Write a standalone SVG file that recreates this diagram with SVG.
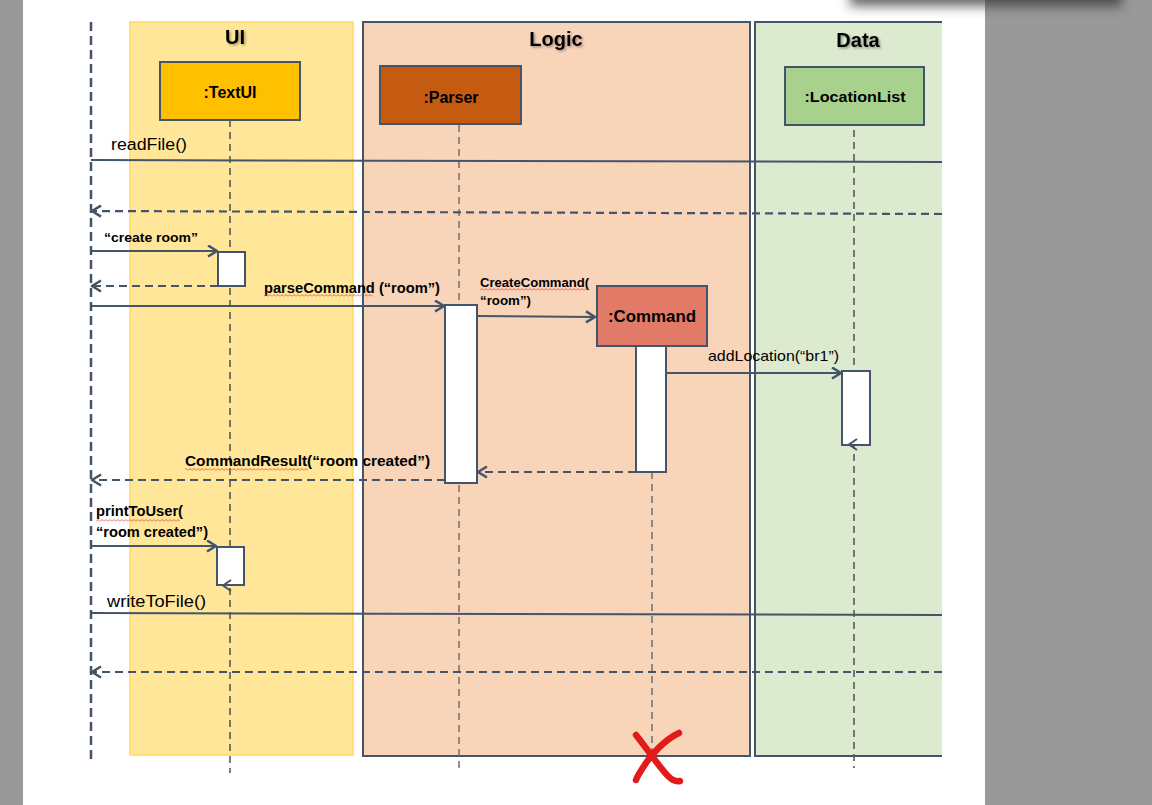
<svg xmlns="http://www.w3.org/2000/svg" width="1152" height="805" viewBox="0 0 1152 805">
<style>
.lbl{font-family:"Liberation Sans","Open Sans",sans-serif;fill:#000;}
.b{font-weight:bold;}
.title{font-family:"Liberation Sans","Open Sans",sans-serif;font-weight:bold;font-size:20px;fill:#000;}
.head{stroke:#44546A;stroke-width:2;}
.act{fill:#FFFFFF;stroke:#44546A;stroke-width:2;}
.msg{stroke:#44546A;stroke-width:2;fill:none;}
.ret{stroke:#44546A;stroke-width:2.2;fill:none;stroke-dasharray:8 5;}
.life{stroke:#595959;stroke-width:1.6;fill:none;stroke-dasharray:7 5;}
.life2{stroke:#6F6F6F;stroke-width:1.5;fill:none;stroke-dasharray:7 5;}
.squig{fill:url(#sq);}
</style>
<defs>
<marker id="arr" markerUnits="userSpaceOnUse" markerWidth="14" markerHeight="14" refX="10" refY="6.5" orient="auto">
<path d="M1,1 L10,6.5 L1,12" fill="none" stroke="#44546A" stroke-width="2.6" stroke-linejoin="round"/>
</marker>
<pattern id="sq" width="4" height="3" patternUnits="userSpaceOnUse">
<path d="M0,2.5 L2,0.5 L4,2.5" fill="none" stroke="#E04040" stroke-width="0.8"/>
</pattern>
<filter id="ts" x="-20%" y="-20%" width="150%" height="150%">
<feDropShadow dx="1.5" dy="1.5" stdDeviation="1" flood-color="#000" flood-opacity="0.35"/>
</filter>
<filter id="blur" x="-20%" y="-100%" width="140%" height="300%">
<feGaussianBlur stdDeviation="6"/>
</filter>
</defs>

<!-- page background -->
<rect x="0" y="0" width="1152" height="805" fill="#FFFFFF"/>
<rect x="0" y="0" width="23" height="805" fill="#999999"/>
<rect x="985" y="0" width="167" height="805" fill="#999999"/>
<rect x="850" y="-14" width="272" height="20" fill="#333333" filter="url(#blur)" opacity="0.75"/>

<!-- lanes -->
<g id="lane-ui">
<rect x="130" y="22" width="223" height="733" fill="#FFE699" stroke="#FFD966" stroke-width="1.5"/>
<text class="title" x="235" y="44" text-anchor="middle" filter="url(#ts)" font-size="21">UI</text>
</g>
<g id="lane-logic">
<rect x="363" y="22" width="387" height="734" fill="#F8D4B9" stroke="#44546A" stroke-width="2"/>
<text class="title" x="556" y="46" text-anchor="middle" filter="url(#ts)">Logic</text>
</g>
<g id="lane-data">
<rect x="755" y="22" width="187" height="734" fill="#DCEAD0"/>
<path d="M942,22 L755,22 L755,756 L942,756" fill="none" stroke="#44546A" stroke-width="2"/>
<text class="title" x="858" y="47" text-anchor="middle" filter="url(#ts)">Data</text>
</g>

<!-- nodes -->
<g id="node-actor">
<line x1="91" y1="22" x2="91" y2="760" stroke="#44546A" stroke-width="2.5" stroke-dasharray="9 5"/>
</g>
<g id="node-textui">
<line class="life" x1="230" y1="120" x2="230" y2="773"/>
<rect class="head" x="160" y="62" width="140" height="58" fill="#FFC000"/>
<text class="lbl b" x="230" y="98" text-anchor="middle" font-size="16">:TextUI</text>
<rect class="act" x="218" y="252" width="27" height="34"/>
<rect class="act" x="217" y="547" width="27" height="38"/>
</g>
<g id="node-parser">
<line class="life2" x1="459" y1="125" x2="459" y2="773"/>
<rect class="head" x="380" y="66" width="141" height="58" fill="#C55A11"/>
<text class="lbl b" x="451" y="103" text-anchor="middle" font-size="16">:Parser</text>
<rect class="act" x="445" y="305" width="32" height="178"/>
</g>
<g id="node-command">
<line class="life2" x1="652" y1="472" x2="652" y2="752"/>
<rect class="head" x="597" y="286" width="110" height="60" fill="#E27A68"/>
<text class="lbl b" x="652" y="322" text-anchor="middle" font-size="17" textLength="88" lengthAdjust="spacingAndGlyphs">:Command</text>
<rect class="act" x="636" y="346" width="30" height="126"/>
<path d="M636,735 C648,750 660,768 668,776 C672,780 676,782 680,781" fill="none" stroke="#E31A1A" stroke-width="6.5" stroke-linecap="round"/>
<path d="M679,733 C664,740 650,756 644,766 C640,772 637,777 636,780" fill="none" stroke="#E31A1A" stroke-width="6.5" stroke-linecap="round"/>
</g>
<g id="node-locationlist">
<line class="life" x1="854" y1="130" x2="854" y2="768"/>
<rect class="head" x="785" y="67" width="139" height="58" fill="#A9D18E"/>
<text class="lbl" x="855" y="102" text-anchor="middle" font-size="15" font-weight="bold" textLength="101" lengthAdjust="spacingAndGlyphs">:LocationList</text>
<rect class="act" x="842" y="371" width="28" height="74"/>
</g>

<!-- connectors -->
<g id="connectors">
<line class="msg" x1="91" y1="160" x2="942" y2="162"/>
<line class="ret" x1="942" y1="214" x2="92" y2="211" marker-end="url(#arr)"/>
<line class="msg" x1="91" y1="251" x2="217" y2="251" marker-end="url(#arr)"/>
<line class="ret" x1="218" y1="286" x2="92" y2="286" marker-end="url(#arr)"/>
<line class="msg" x1="91" y1="306" x2="444" y2="306" marker-end="url(#arr)"/>
<line class="msg" x1="477" y1="316" x2="595" y2="317" marker-end="url(#arr)"/>
<line class="msg" x1="666" y1="373" x2="841" y2="373" marker-end="url(#arr)"/>
<path class="msg" d="M857,439 L849,444.5 L857,450" stroke-width="2.4"/>
<line class="ret" x1="636" y1="472" x2="478" y2="472" marker-end="url(#arr)"/>
<line class="ret" x1="445" y1="480" x2="92" y2="480" marker-end="url(#arr)"/>
<line class="msg" x1="91" y1="546" x2="216" y2="546" marker-end="url(#arr)"/>
<path class="msg" d="M231,580 L223,585.5 L231,591" stroke-width="2.4"/>
<line class="msg" x1="91" y1="613" x2="942" y2="615"/>
<line class="ret" x1="942" y1="672" x2="92" y2="672" marker-end="url(#arr)"/>

<text class="lbl" x="111" y="150" font-size="16" textLength="76" lengthAdjust="spacingAndGlyphs">readFile()</text>
<text class="lbl b" x="104" y="242" font-size="13" textLength="94" lengthAdjust="spacingAndGlyphs">“create room”</text>
<text class="lbl b" x="264" y="293" font-size="14" textLength="176" lengthAdjust="spacingAndGlyphs">parseCommand (“room”)</text>
<rect class="squig" x="264" y="294" width="109" height="3"/>
<text class="lbl b" x="480" y="287" font-size="13" textLength="109" lengthAdjust="spacingAndGlyphs">CreateCommand(</text>
<rect class="squig" x="480" y="288" width="108" height="3"/>
<text class="lbl b" x="480" y="305" font-size="13" textLength="51" lengthAdjust="spacingAndGlyphs">“room”)</text>
<text class="lbl" x="708" y="361" font-size="15" textLength="131" lengthAdjust="spacingAndGlyphs">addLocation(“br1”)</text>
<text class="lbl b" x="185" y="466" font-size="15" textLength="245" lengthAdjust="spacingAndGlyphs">CommandResult(“room created”)</text>
<rect class="squig" x="185" y="468" width="123" height="3"/>
<text class="lbl b" x="96" y="516" font-size="14" textLength="87" lengthAdjust="spacingAndGlyphs">printToUser(</text>
<rect class="squig" x="96" y="519" width="84" height="3"/>
<text class="lbl b" x="96" y="537" font-size="14" textLength="112" lengthAdjust="spacingAndGlyphs">“room created”)</text>
<text class="lbl" x="107" y="607" font-size="16" textLength="99" lengthAdjust="spacingAndGlyphs">writeToFile()</text>
</g>
</svg>
